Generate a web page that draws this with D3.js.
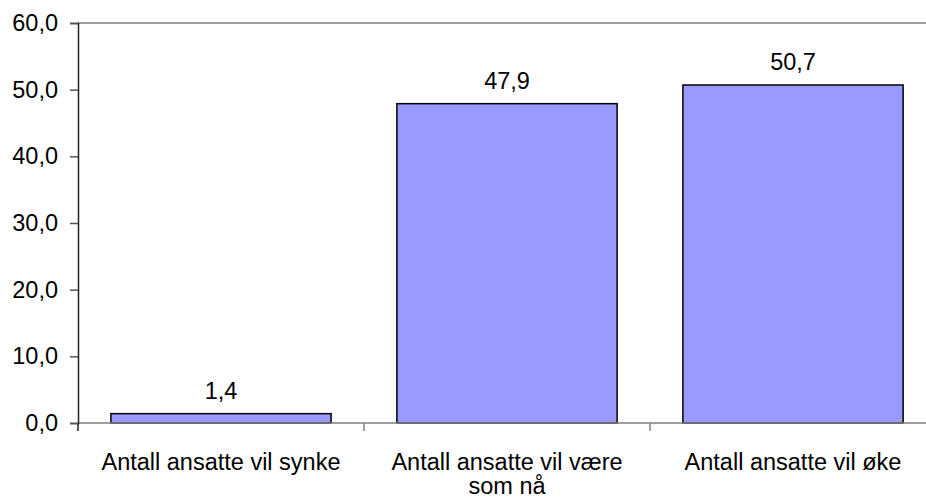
<!DOCTYPE html>
<html>
<head>
<meta charset="utf-8">
<script src="https://cdn.jsdelivr.net/npm/d3@7"></script>
<style>
  html, body { margin: 0; padding: 0; background: #fff; }
  svg { display: block; font-family: "Liberation Sans", Arial, sans-serif; }
</style>
</head>
<body>
<div id="chart"></div>
<script>
const categories = ['Antall ansatte vil synke', 'Antall ansatte vil være som nå', 'Antall ansatte vil øke'];
const categoryLines = [['Antall ansatte vil synke'], ['Antall ansatte vil være', 'som nå'], ['Antall ansatte vil øke']];
const values = [1.4, 47.9, 50.7];
const yTicks = [0, 10, 20, 30, 40, 50, 60];

const width = 926;
const height = 503;
const margin = { top: 23, right: -10, bottom: 80, left: 78 };
const fontSize = 23.5;
const fmt = v => v.toFixed(1).replace('.', ',');

const svg = d3.select('#chart').append('svg')
  .attr('width', width)
  .attr('height', height);

const x = d3.scaleBand()
  .domain(categories)
  .range([margin.left, width - margin.right])
  .paddingInner(0.23)
  .paddingOuter(0.115);

const y = d3.scaleLinear()
  .domain([0, 60])
  .range([height - margin.bottom, margin.top]);

// bord haut du cadre (gris)
svg.append('line')
  .attr('x1', margin.left).attr('x2', width)
  .attr('y1', y(60)).attr('y2', y(60))
  .attr('stroke', '#808080').attr('stroke-width', 1.5);

// barres
svg.append('g').selectAll('rect')
  .data(values)
  .join('rect')
  .attr('x', (d, i) => x(categories[i]))
  .attr('y', d => y(d))
  .attr('width', x.bandwidth())
  .attr('height', d => y(0) - y(d))
  .attr('fill', '#9999FF')
  .attr('stroke', '#000')
  .attr('stroke-width', 1.5);

// étiquettes de valeur
svg.append('g').selectAll('text')
  .data(values)
  .join('text')
  .attr('x', (d, i) => x(categories[i]) + x.bandwidth() / 2)
  .attr('y', d => y(d) - 15)
  .attr('text-anchor', 'middle')
  .attr('font-size', fontSize)
  .attr('fill', '#000')
  .text(fmt);

// axe X (ligne + graduations entre catégories)
const step = x.step();
const xg = svg.append('g');
xg.append('line')
  .attr('x1', margin.left).attr('x2', width)
  .attr('y1', y(0)).attr('y2', y(0))
  .attr('stroke', '#808080').attr('stroke-width', 1.5);
xg.selectAll('line.tick')
  .data(categories)
  .join('line')
  .attr('class', 'tick')
  .attr('x1', c => x(c) - step * x.paddingInner() / 2)
  .attr('x2', c => x(c) - step * x.paddingInner() / 2)
  .attr('y1', y(0)).attr('y2', y(0) + 8)
  .attr('stroke', (c, i) => i === 0 ? '#222' : '#808080')
  .attr('stroke-width', 1.5);

xg.selectAll('text')
  .data(categories)
  .join('text')
  .attr('x', c => x(c) + x.bandwidth() / 2)
  .attr('y', y(0) + 47)
  .attr('text-anchor', 'middle')
  .attr('font-size', fontSize)
  .attr('fill', '#000')
  .each(function (c, i) {
    d3.select(this).selectAll('tspan')
      .data(categoryLines[i])
      .join('tspan')
      .attr('x', x(c) + x.bandwidth() / 2)
      .attr('dy', (l, j) => j === 0 ? 0 : 24)
      .text(l => l);
  });

// axe Y
const yAxis = svg.append('g')
  .attr('transform', `translate(${margin.left},0)`)
  .call(d3.axisLeft(y).tickValues(yTicks).tickFormat(fmt).tickSize(8).tickPadding(12));
yAxis.select('.domain').attr('stroke', '#222').attr('stroke-width', 1.5);
yAxis.selectAll('.tick line').attr('stroke', '#555').attr('stroke-width', 1.5);
yAxis.selectAll('.tick text').attr('font-size', fontSize).attr('fill', '#000')
  .attr('font-family', '"Liberation Sans", Arial, sans-serif');
</script>
</body>
</html>
